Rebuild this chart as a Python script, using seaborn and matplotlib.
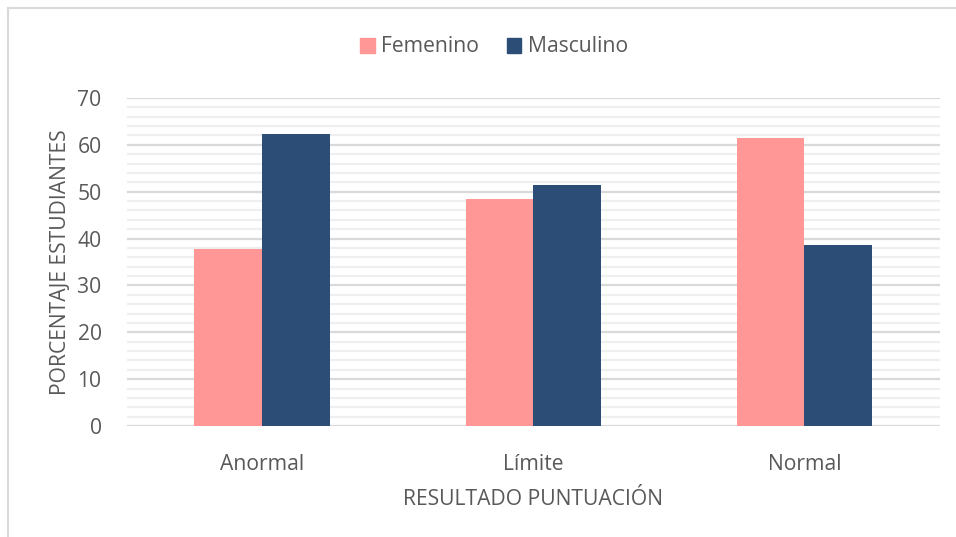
import pandas as pd
import matplotlib.pyplot as plt
import seaborn as sns
from matplotlib.lines import Line2D
from matplotlib.ticker import MultipleLocator

# data
categorias = ['Anormal', 'Límite', 'Normal']
femenino = [37.7, 48.5, 61.4]
masculino = [62.3, 51.5, 38.6]
series = ['Femenino', 'Masculino']
colores = ['#FF9797', '#2C4D75']
y_ticks = [0, 10, 20, 30, 40, 50, 60, 70]

df = pd.DataFrame({
    'resultado': categorias * 2,
    'porcentaje': femenino + masculino,
    'sexo': [series[0]] * 3 + [series[1]] * 3,
})

sns.set_style('white')
plt.rcParams['font.family'] = ['Open Sans', 'DejaVu Sans']
text_color = '#595959'
fs = 15.2

fig = plt.figure(figsize=(9.56, 5.37), dpi=100)
ax = fig.add_axes([126.7 / 956, 1 - 426 / 537, (940 - 126.7) / 956, 328 / 537])

sns.barplot(data=df, x='resultado', y='porcentaje', hue='sexo', order=categorias,
            hue_order=series, palette=colores, saturation=1, width=0.5,
            linewidth=0, ax=ax, legend=False, errorbar=None)

ax.set_ylim(0, 70)
ax.set_yticks(y_ticks)
ax.yaxis.set_minor_locator(MultipleLocator(2))
ax.set_axisbelow(True)
ax.grid(axis='y', which='major', color='#D9D9D9', linewidth=1.6)
ax.grid(axis='y', which='minor', color='#EFEFEF', linewidth=1.6)
for s in ax.spines.values():
    s.set_visible(False)
ax.tick_params(axis='both', which='both', length=0, labelsize=fs, colors=text_color)
ax.tick_params(axis='y', pad=18)
ax.tick_params(axis='x', pad=20)

ax.set_xlabel('RESULTADO PUNTUACIÓN', fontsize=fs, color=text_color, labelpad=10)
ax.set_ylabel('PORCENTAJE ESTUDIANTES', fontsize=fs, color=text_color, labelpad=5)

handles = [plt.Rectangle((0, 0), 1, 1, color=c) for c in colores]
fig.legend(handles, series, loc='center', bbox_to_anchor=(494 / 956, 1 - 47 / 537), ncol=2,
           frameon=False, fontsize=fs, labelcolor=text_color, handlelength=0.7,
           handleheight=0.7, handletextpad=0.3, columnspacing=1.3)

# chart area border (top and left visible)
fig.add_artist(Line2D([8 / 956, 1], [1 - 8 / 537, 1 - 8 / 537], color='#D9D9D9', linewidth=1.5))
fig.add_artist(Line2D([8 / 956, 8 / 956], [0, 1 - 8 / 537], color='#D9D9D9', linewidth=1.5))

fig.savefig('out.png', dpi=100)
